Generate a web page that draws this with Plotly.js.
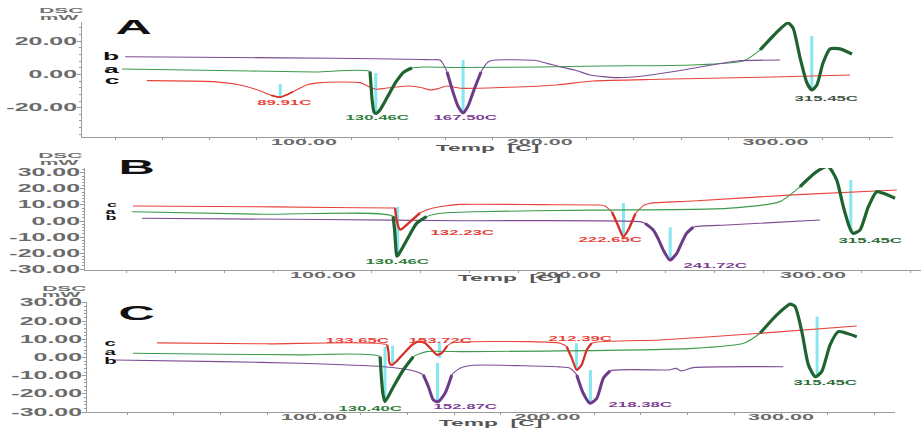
<!DOCTYPE html>
<html><head><meta charset="utf-8">
<script src="https://cdn.plot.ly/plotly-3.0.1.min.js"></script>
<style>html,body{margin:0;padding:0;background:#fff}#chart{width:921px;height:430px}</style>
</head><body><div id="chart"></div>
<script>
// ---------- DATA (temperature in C, heat flow in mW) ----------
// Panel A
const A_a_t = [22.8, 50, 77, 105, 128.0, 128.4, 128.9, 129.7, 130.5, 132.2, 135.6, 139.0, 142.4, 145.8, 151.3, 166, 200, 225.6, 265, 286.3, 293.5, 300.7, 305.3, 307.5, 310.4, 313.4, 315.5, 317.6, 320.2, 323.2, 327.4, 332.5];
const A_a_v = [3.3, 2.7, 2.1, 1.5, 1.7, -6.3, -15.4, -22.6, -23.5, -21.4, -13.0, -4.5, 1.5, 3.9, 4.5, 4.2, 4.5, 5.1, 5.7, 8.1, 14.8, 25.6, 31.0, 28.0, 10.5, -5.1, -9.3, -6.3, 6.9, 15.4, 15.4, 12.3];
const A_b_t = [24.1, 70, 112.3, 150, 155, 157.7, 160.7, 163.2, 165.3, 167.5, 169.6, 172.1, 175.1, 178.1, 181, 198.9, 203, 208.6, 215.8, 221.3, 232.8, 243.8, 265, 283.7, 302];
const A_b_v = [10.7, 10.2, 9.8, 9.0, 8.9, 8.7, 1.5, -10.5, -19.0, -23.2, -19.0, -9.3, 1.5, 7.5, 8.7, 8.3, 6.7, 4.7, 2.3, -0.3, -1.9, -0.9, 3.7, 8.1, 8.7];
const A_c_t = [33.3, 61.5, 72.8, 81.3, 86, 89.9, 93, 95.3, 101.1, 106.8, 123.8, 128, 130.8, 134, 137.9, 145, 150, 153.5, 157, 160.5, 166.2, 187.4, 207.2, 222.7, 251, 293.5, 331.7];
const A_c_v = [-3.7, -4.3, -6.3, -9.8, -12.5, -13.7, -12.0, -10.4, -6.3, -4.9, -4.9, -7.7, -8.9, -8.4, -7.7, -6.9, -8.0, -9.3, -8.5, -6.9, -8.3, -7.7, -6.3, -3.9, -2.9, -1.7, -0.3];
const A_peakT = [89.91, 130.46, 167.50, 315.45];
const A_barTop = [-5.7, 0.9, 8.7, 23.2];
const A_barBot = [-13.6, -23.2, -22.6, -8.1];

// Panel B
const B_a_t = [22, 75, 128.6, 129.2, 129.7, 130.1, 130.6, 134.2, 138.2, 142.3, 147.8, 161.3, 210, 264.8, 286.5, 294.7, 301.5, 306.2, 309.7, 312.4, 315.1, 316.4, 319.2, 322.6, 326, 328.7, 333.5];
const B_a_v = [5.8, 4.2, 3.0, -5.0, -16.0, -21.9, -21.5, -11.9, -1.5, 2.7, 4.8, 5.8, 6.8, 7.9, 12.1, 21.4, 30.8, 34.0, 25.6, 8.9, -4.6, -7.7, -5.6, 8.9, 18.3, 17.3, 14.2];
const B_b_t = [26.1, 100, 155.9, 229.4, 231.5, 234.8, 236.8, 238.9, 241.6, 244.4, 246.3, 248.4, 251.1, 264.8, 302.9];
const B_b_v = [1.7, 0.9, 0.2, -0.4, -1.5, -5.6, -11.0, -18.1, -24.4, -20.2, -14.0, -7.7, -3.9, -2.5, 0.6];
const B_c_t = [22.4, 80, 128.6, 129.4, 130.2, 131.4, 132.2, 135.5, 139.6, 144.9, 149.8, 155.9, 190, 213, 215, 218, 220.5, 222.6, 224.8, 227.5, 231, 233.5, 251, 291.8, 334.2];
const B_c_v = [9.4, 8.8, 8.1, 8.1, -0.6, -5.3, -5.0, -0.6, 5.0, 8.1, 9.4, 10.4, 10.2, 10.0, 9.5, 5.5, -3.0, -9.8, -5.0, 4.5, 9.8, 11.1, 12.5, 16.3, 19.4];
const B_peakT = [130.46, 222.65, 241.72, 315.45];
const B_barTop = [8.9, 11.25, -3.9, 25.6];
const B_barBot = [-20.0, -8.75, -23.1, -6.7];

// Panel C
const C_a_t = [22.5, 60, 94, 128.3, 128.8, 129.5, 130.4, 134, 138.2, 142.5, 148.3, 165.4, 262.4, 283.9, 291, 298.2, 303.9, 306, 308.9, 311.7, 314.6, 317.4, 321, 324.5, 328.1, 332.4];
const C_a_v = [2.3, 1.8, 1.4, 0.4, -10.0, -20.0, -24.3, -16.1, -6.9, 0.4, 3.2, 3.2, 5.0, 7.8, 13.3, 23.4, 29.3, 28.0, 14.2, -4.1, -10.6, -7.8, 6.9, 14.2, 13.3, 11.4];
const C_b_t = [14.8, 60, 94, 129.7, 141.1, 146.8, 149, 151.1, 153.2, 156.1, 159, 162.5, 168.2, 190, 205, 209.6, 212.5, 215.3, 218.2, 221.1, 223.9, 226.8, 248.2, 252, 255, 257.2, 262.4, 301];
const C_b_v = [-1.4, -2.3, -3.2, -5.1, -6.9, -9.6, -16.1, -23.4, -24.3, -19.7, -9.6, -5.9, -4.3, -4.6, -5.2, -5.9, -9.6, -19.7, -25.2, -22.5, -11.4, -7.4, -6.9, -6.9, -6.0, -7.4, -5.6, -5.1];
const C_c_t = [32.8, 80, 131.3, 131.9, 132.3, 133.4, 135.5, 139, 142, 144.5, 147.5, 150.5, 152.7, 154.8, 157, 159.1, 192.5, 205.4, 208.2, 210.4, 212.5, 214.6, 216.8, 218.9, 248.2, 291, 332.4];
const C_c_v = [8.0, 7.5, 6.9, 3.0, -3.0, -4.1, -1.9, 3.0, 6.9, 8.7, 8.0, 4.1, 1.4, 2.5, 6.3, 8.0, 8.7, 7.8, 5.9, -0.4, -6.9, -4.1, 4.1, 7.8, 9.6, 13.3, 17.3];
const C_peakT = [130.40, 133.65, 152.87, 153.72, 212.39, 218.38, 315.45];
const C_barTop = [5.9, 6.5, -3.0, 8.7, 7.8, -6.9, 22.5];
const C_barBot = [-24.3, -3.0, -24.3, -0.3, -6.9, -25.2, -9.6];

// tick labels
const xTickVals = [100, 200, 300];
const xTickText = ['100.00', '200.00', '300.00'];
const yTickValsA = [-20, 0, 20];
const yTickTextA = ['-20.00', '0.00', '20.00'];
const yTickValsBC = [-30, -20, -10, 0, 10, 20, 30];
const yTickTextBC = ['-30.00', '-20.00', '-10.00', '0.00', '10.00', '20.00', '30.00'];

// ---------- STYLE / LAYOUT ----------
const W = 921, H = 430;
const px = p => p / W, py = p => 1 - p / H;
const COL = {
  a: '#3c9a4c', aT: '#1f6330',
  b: '#7d4b94', bT: '#6b3a88',
  c: '#e8433b', cT: '#d6302b',
  cyan: '#72e3ec'
};
const LBL = {a: '#2f7d3c', b: '#7b3f93', c: '#e8433b', d: '#3e5340', g: '#2d6b35'};

const panels = [
  {ax: ['x', 'y'], bars: [A_peakT, A_barTop, A_barBot],
   curves: [
     {t: A_c_t, v: A_c_v, k: 'c', thick: [[84, 96]], tw: 1.6},
     {t: A_a_t, v: A_a_v, k: 'a', thick: [[127.9, 147], [289, 335]], tw: 3.2},
     {t: A_b_t, v: A_b_v, k: 'b', thick: [[159, 178]], tw: 3}
   ]},
  {ax: ['x2', 'y2'], bars: [B_peakT, B_barTop, B_barBot],
   curves: [
     {t: B_b_t, v: B_b_v, k: 'b', thick: [[230, 252]], tw: 3},
     {t: B_c_t, v: B_c_v, k: 'c', thick: [[129, 142], [216, 230]], tw: 2.4},
     {t: B_a_t, v: B_a_v, k: 'a', thick: [[128.5, 145], [290, 335]], tw: 3.2}
   ]},
  {ax: ['x3', 'y3'], bars: [C_peakT, C_barTop, C_barBot],
   curves: [
     {t: C_b_t, v: C_b_v, k: 'b', thick: [[146, 162], [210, 227]], tw: 3},
     {t: C_a_t, v: C_a_v, k: 'a', thick: [[128.2, 145], [290, 335]], tw: 3.2},
     {t: C_c_t, v: C_c_v, k: 'c', thick: [[131, 158], [207, 220]], tw: 2.2}
   ]}
];

const data = [];
panels.forEach(p => {
  const [xa, ya] = p.ax;
  const [bt, btop, bbot] = p.bars;
  bt.forEach((t, i) => data.push({
    x: [t, t], y: [btop[i], bbot[i]], xaxis: xa, yaxis: ya, mode: 'lines',
    line: {color: COL.cyan, width: 3}, opacity: 0.85, hoverinfo: 'skip', showlegend: false
  }));
  p.curves.forEach(c => data.push({
    x: c.t, y: c.v, xaxis: xa, yaxis: ya, mode: 'lines',
    line: {color: COL[c.k], width: 1.1, shape: 'spline', smoothing: 0.6}, showlegend: false
  }));
  p.curves.forEach(c => c.thick.forEach(([lo, hi]) => {
    const idx = c.t.map((t, i) => i).filter(i => c.t[i] >= lo && c.t[i] <= hi);
    data.push({
      x: idx.map(i => c.t[i]), y: idx.map(i => c.v[i]), xaxis: xa, yaxis: ya, mode: 'lines',
      line: {color: COL[c.k + 'T'], width: c.tw, shape: 'spline', smoothing: 0.6}, showlegend: false
    });
  }));
});

const FAM = 'Liberation Sans, Arial, sans-serif';
const tickFontX = {family: FAM, size: 9, color: '#6b6b6b', weight: 'bold'};
const tickFontY = {family: FAM, size: 10, color: '#6b6b6b', weight: 'bold'};
function xAxis(dom, rng, anchor) {
  return {domain: dom, range: rng, anchor: anchor, showline: true, linecolor: '#9c9c9c', linewidth: 1,
    ticks: 'outside', ticklen: 3, tickcolor: '#9c9c9c', tickvals: xTickVals, ticktext: xTickText,
    tickfont: tickFontX, ticklabelstandoff: -7, showgrid: false, zeroline: false,
    minor: {dtick: 20, tick0: 0, ticks: 'outside', ticklen: 2, tickcolor: '#9c9c9c'}};
}
function yAxis(dom, rng, anchor, tv, tt, md) {
  return {domain: dom, range: rng, anchor: anchor, showline: true, linecolor: '#9c9c9c', linewidth: 1.2,
    ticks: 'outside', ticklen: 4, tickcolor: '#9c9c9c', tickvals: tv, ticktext: tt,
    tickfont: tickFontY, ticklabelstandoff: -3, showgrid: false, zeroline: false,
    minor: {dtick: md, tick0: 0, ticks: 'outside', ticklen: 2, tickcolor: '#9c9c9c'}};
}

const ann = [];
function txt(text, x, y, size, color, xref, yref) {
  ann.push({text: text, x: x, y: y, xref: xref || 'paper', yref: yref || 'paper', showarrow: false,
    xanchor: 'center', yanchor: 'middle', borderpad: 0,
    font: {family: FAM, size: size, color: color, weight: 'bold'}});
}
// panel letters
txt('A', px(133), py(26), 21, '#111');
txt('B', px(136.5), py(166.5), 21, '#111');
txt('C', px(136), py(312), 21, '#111');
// DSC / mW
[[11, 17, 61.5, 59.5], [155.5, 162.5, 60, 59], [288.5, 294.5, 64, 61]].forEach(([y1, y2, x1, x2]) => {
  txt('DSC', px(x1), py(y1), 7, '#707070');
  txt('mW', px(x2), py(y2), 7, '#707070');
});
// x titles
txt('Temp  [C]', px(487), py(147), 9.5, '#555');
txt('Temp  [C]', px(509), py(277), 9.5, '#555');
txt('Temp  [C]', px(490), py(422), 9.5, '#555');
// curve letters
txt('b', px(111), py(56), 11, '#111'); txt('a', px(112), py(68.5), 11, '#111'); txt('c', px(112), py(80), 11, '#111');
txt('c', px(111.5), py(204.5), 7.5, '#111'); txt('a', px(111.5), py(211), 7.5, '#111'); txt('b', px(111.5), py(217.5), 7.5, '#111');
txt('c', px(110), py(343), 8.5, '#111'); txt('a', px(110), py(352), 8.5, '#111'); txt('b', px(110), py(360.5), 8.5, '#111');

// peak labels: text from the peak temperature, placed at (C, mW)
const lab = (T, xx, yy, col, xr, yr) => txt(T.toFixed(2) + 'C', xx, yy, 7, col, xr, yr);
lab(A_peakT[0], 91.9, -16.6, LBL.c, 'x', 'y');
lab(A_peakT[1], 131, -26.2, LBL.a, 'x', 'y');
lab(A_peakT[2], 168.3, -26.2, LBL.b, 'x', 'y');
lab(A_peakT[3], 321.5, -14.2, LBL.d, 'x', 'y');
lab(B_peakT[0], 130.2, -25, LBL.a, 'x2', 'y2');
lab(132.23, 156.7, -6.9, LBL.c, 'x2', 'y2');
lab(B_peakT[1], 217.1, -11.3, LBL.c, 'x2', 'y2');
lab(B_peakT[2], 260, -27.5, LBL.b, 'x2', 'y2');
lab(B_peakT[3], 323.3, -11.9, LBL.g, 'x2', 'y2');
lab(C_peakT[1], 118.4, 9.6, LBL.c, 'x3', 'y3');
lab(C_peakT[3], 154, 9.6, LBL.c, 'x3', 'y3');
lab(C_peakT[4], 213.9, 10.7, LBL.c, 'x3', 'y3');
lab(C_peakT[0], 124, -27.8, LBL.a, 'x3', 'y3');
lab(C_peakT[2], 164.7, -27.2, LBL.b, 'x3', 'y3');
lab(C_peakT[5], 239.6, -25.6, LBL.b, 'x3', 'y3');
lab(C_peakT[6], 318.8, -14, LBL.g, 'x3', 'y3');

const layout = {
  width: W, height: H, margin: {l: 0, r: 0, t: 0, b: 0}, paper_bgcolor: '#fff', plot_bgcolor: 'rgba(0,0,0,0)',
  showlegend: false, hovermode: false,
  xaxis: xAxis([px(82), px(893)], [5.8, 349.9], 'y'),
  yaxis: yAxis([py(137), py(22)], [-37.65, 31.6], 'x', yTickValsA, yTickTextA, 4),
  xaxis2: xAxis([px(85), 1], [2.86, 344.1], 'y2'),
  yaxis2: yAxis([py(270), py(168)], [-30.6, 33.1], 'x2', yTickValsBC, yTickTextBC, 2),
  xaxis3: xAxis([px(87), px(895)], [2.78, 348.8], 'y3'),
  yaxis3: yAxis([py(412), py(302)], [-30.0, 30.5], 'x3', yTickValsBC, yTickTextBC, 2),
  annotations: ann
};

// the reference's lettering is stretched horizontally: scale each text in x about its anchor point
function stretch(gd) {
  gd.querySelectorAll('text').forEach(el => {
    const s = el.textContent.trim();
    if (!s) return;
    if (el.dataset.tfs !== undefined && el.getAttribute('transform') === el.dataset.tfs) {
      if (el.dataset.tf) el.setAttribute('transform', el.dataset.tf); else el.removeAttribute('transform');
    }
    let b;
    try { b = el.getBBox(); } catch (e) { return; }
    if (!b.width) return;
    const pc = (el.parentNode && el.parentNode.getAttribute('class')) || '';
    const F = /^y\d*tick/.test(pc) ? 2.5 : (s === 'DSC' || s === 'mW') ? 3.0 : 2.4;
    const anc = getComputedStyle(el).textAnchor;
    const ax = anc === 'end' ? b.x + b.width : anc === 'middle' ? b.x + b.width / 2 : b.x;
    const tf0 = el.getAttribute('transform') || '';
    const tfs = (tf0 + ' translate(' + ax.toFixed(2) + ',0) scale(' + F + ',1) translate(' + (-ax).toFixed(2) + ',0)').trim();
    el.dataset.tf = tf0;
    el.setAttribute('transform', tfs);
    el.dataset.tfs = tfs;
  });
}

Plotly.newPlot('chart', data, layout, {staticPlot: true}).then(gd => {
  stretch(gd);
  gd.on('plotly_afterplot', () => stretch(gd));
});
</script></body></html>
